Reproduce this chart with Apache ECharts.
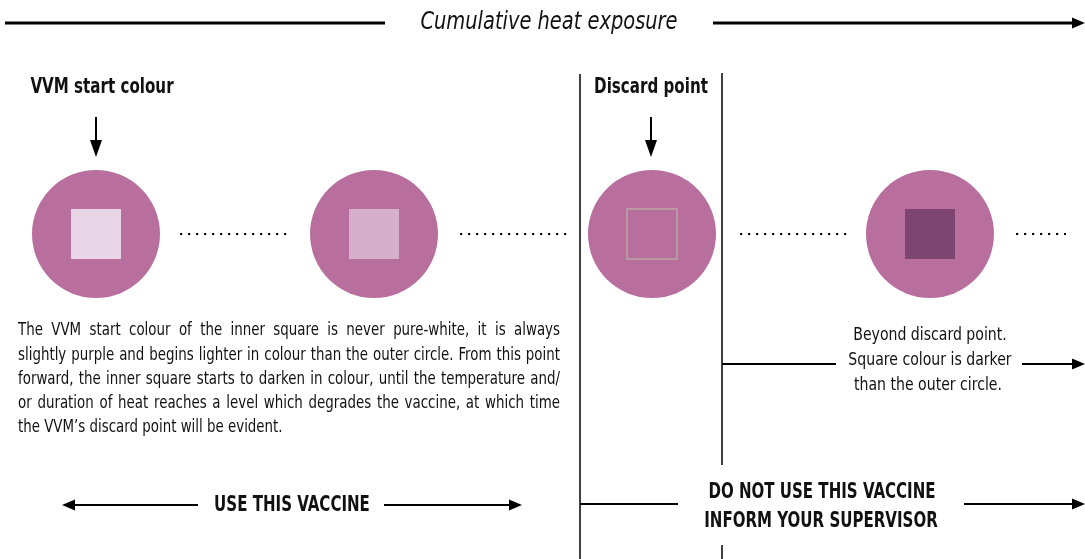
<!DOCTYPE html>
<html>
<head>
<meta charset="utf-8">
<script src="https://cdn.jsdelivr.net/npm/echarts@6/dist/echarts.min.js"></script>
<style>
html, body { margin: 0; padding: 0; background: #fff; }
#main { width: 1085px; height: 559px; }
</style>
</head>
<body>
<div id="main"></div>
<script>
// stages of the VVM along cumulative heat exposure
var stages = ['VVM start colour', 'Lighter than circle', 'Discard point', 'Beyond discard point'];
var stageIndex = [0, 1, 2, 3];
var circleColor = '#B86F9E';
var squareColors = ['#E8D6E6', '#D5AFCB', 'rgba(0,0,0,0)', '#7E4572'];
var squareBorders = ['none', 'none', '#BBA8A8', 'none'];

var paragraphLines = [
	'The VVM start colour of the inner square is never pure-white, it is always',
	'slightly purple and begins lighter in colour than the outer circle. From this point',
	'forward, the inner square starts to darken in colour, until the temperature and/',
	'or duration of heat reaches a level which degrades the vaccine, at which time',
	'the VVM\u2019s discard point will be evident.'
];
var beyondLines = ['Beyond discard point.', 'Square colour is darker', 'than the outer circle.'];

var COND = '"DejaVu Sans Condensed", "Liberation Sans Narrow", sans-serif';

var chart = echarts.init(document.getElementById('main'));

function hLine(x1, y, x2, w) {
	return { type: 'line', shape: { x1: x1, y1: y, x2: x2, y2: y }, style: { stroke: '#000', lineWidth: w || 2 } };
}
function vLine(x, y1, y2, w) {
	return { type: 'line', shape: { x1: x, y1: y1, x2: x, y2: y2 }, style: { stroke: '#000', lineWidth: w || 1.5 } };
}
function headRight(x, y) {
	return { type: 'polygon', shape: { points: [[x - 13, y - 5.5], [x, y], [x - 13, y + 5.5]] }, style: { fill: '#000' } };
}
function headLeft(x, y) {
	return { type: 'polygon', shape: { points: [[x + 13, y - 5.5], [x, y], [x + 13, y + 5.5]] }, style: { fill: '#000' } };
}
function headDown(x, y) {
	return { type: 'polygon', shape: { points: [[x - 6, y - 17], [x, y], [x + 6, y - 17]] }, style: { fill: '#000' } };
}
function dots(x1, x2, y) {
	return { type: 'line', shape: { x1: x1, y1: y, x2: x2, y2: y }, style: { stroke: '#000', lineWidth: 2.2, lineDash: [2.2, 5.8] } };
}
// sx squeezes the glyphs horizontally to imitate a condensed face
function txt(x, y, s, font, align, sx) {
	return {
		type: 'text', x: x, y: y, scaleX: sx || 1,
		style: { text: s, font: font, fill: '#111', align: align || 'center', verticalAlign: 'middle' }
	};
}

// justified paragraph: measure words and spread them across the width
var measureCtx = document.createElement('canvas').getContext('2d');
function justified(lines, left, right, top, lh, font, sx) {
	measureCtx.font = font;
	var out = [];
	lines.forEach(function (line, i) {
		var y = top + i * lh;
		if (i === lines.length - 1) {
			out.push(txt(left, y, line, font, 'left', sx));
			return;
		}
		var words = line.split(' ');
		var total = 0;
		words.forEach(function (w) { total += measureCtx.measureText(w).width * sx; });
		var gap = (right - left - total) / (words.length - 1);
		var x = left;
		words.forEach(function (w) {
			out.push(txt(x, y, w, font, 'left', sx));
			x += measureCtx.measureText(w).width * sx + gap;
		});
	});
	return out;
}

var graphics = [
	// top axis
	hLine(5, 23, 385, 3),
	txt(549, 23, 'Cumulative heat exposure', 'italic 24px ' + COND, 'center', 0.9),
	hLine(713, 23, 1075, 3),
	headRight(1085, 23),
	// headers
	txt(102, 88, 'VVM start colour', 'bold 21px ' + COND, 'center', 0.8),
	vLine(96, 117, 142, 2), headDown(96, 157),
	txt(651, 88, 'Discard point', 'bold 21px ' + COND, 'center', 0.8),
	vLine(651, 117, 142, 2), headDown(651, 157),
	// separators
	vLine(580, 74, 559),
	vLine(722, 73, 465),
	vLine(722, 545, 559),
	// dotted lines
	dots(180, 290, 234),
	dots(460, 570, 234),
	dots(740, 850, 234),
	dots(1016, 1066, 234),
	// beyond text
	txt(930, 335, beyondLines[0], '18px ' + COND, 'center', 0.87),
	txt(930, 360, beyondLines[1], '18px ' + COND, 'center', 0.87),
	txt(928, 385, beyondLines[2], '18px ' + COND, 'center', 0.87),
	hLine(722, 364, 836, 2),
	hLine(1022, 364, 1075, 2), headRight(1085, 364),
	// use this vaccine
	headLeft(62, 505), hLine(70, 505, 198, 2),
	txt(292, 505, 'USE THIS VACCINE', 'bold 22px ' + COND, 'center', 0.76),
	hLine(384, 505, 512, 2), headRight(522, 505),
	// do not use
	hLine(580, 504, 678, 2),
	txt(822, 492, 'DO NOT USE THIS VACCINE', 'bold 22px ' + COND, 'center', 0.76),
	txt(821, 521, 'INFORM YOUR SUPERVISOR', 'bold 22px ' + COND, 'center', 0.76),
	hLine(964, 504, 1075, 2), headRight(1085, 504)
].concat(justified(paragraphLines, 18, 560, 331, 24.2, '17px ' + COND, 0.875));

var option = {
	animation: false,
	grid: { left: 96, right: 155, top: 170, height: 128 },
	xAxis: { type: 'value', min: 0, max: 3, show: false },
	yAxis: { type: 'category', data: ['vvm'], show: false },
	series: [{
		name: 'circle',
		type: 'scatter',
		symbol: 'circle',
		symbolSize: 128,
		itemStyle: { color: circleColor, opacity: 1 },
		data: stageIndex.map(function (s) { return [s, 'vvm']; }),
		z: 1
	}, {
		name: 'square',
		type: 'scatter',
		symbol: 'rect',
		symbolSize: 50,
		data: stageIndex.map(function (s, i) {
			return {
				name: stages[i],
				value: [s, 'vvm'],
				itemStyle: {
					color: squareColors[i],
					opacity: 1,
					borderColor: squareBorders[i] === 'none' ? 'transparent' : squareBorders[i],
					borderWidth: squareBorders[i] === 'none' ? 0 : 1.5
				}
			};
		}),
		z: 2
	}],
	graphic: graphics
};
chart.setOption(option);
</script>
</body>
</html>
